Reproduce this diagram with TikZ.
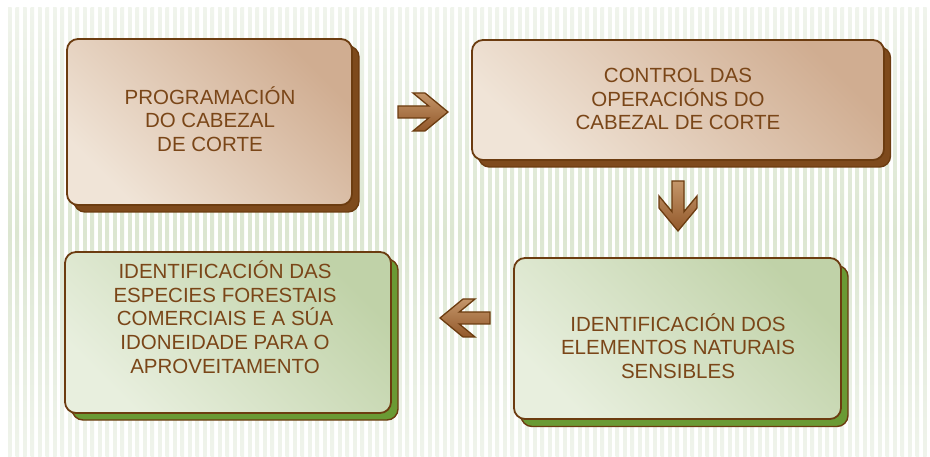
\documentclass[tikz,border=0pt]{standalone}
\usepackage{fontspec}
\setmainfont{Liberation Sans}
\definecolor{bordc}{RGB}{108,60,16}
\definecolor{shadowbrown}{RGB}{126,74,28}
\definecolor{tanlight}{RGB}{240,228,215}
\definecolor{tandark}{RGB}{208,173,145}
\definecolor{greenlight}{RGB}{232,239,222}
\definecolor{greendark}{RGB}{192,210,168}
\definecolor{greenshadow}{RGB}{106,154,52}
\definecolor{textc}{RGB}{122,70,24}
\definecolor{arrowlight}{RGB}{196,150,106}
\definecolor{arrowdark}{RGB}{146,88,42}
\definecolor{stripemid}{RGB}{220,230,209}
\definecolor{stripeend}{RGB}{240,244,236}
\tikzset{
  boxbase/.style={rectangle, rounded corners=11pt, draw=bordc, line width=1.8pt, inner sep=0pt},
  tanbox/.style={boxbase, top color=tanlight, bottom color=tandark, shading angle=135},
  greenbox/.style={boxbase, top color=greenlight, bottom color=greendark, shading angle=135},
  brownshadow/.style={boxbase, fill=shadowbrown, line width=1.4pt},
  greenshadowbox/.style={boxbase, fill=greenshadow, line width=1.4pt},
  txt/.style={align=center, text=textc, font=\fontsize{20.5}{23.7}\selectfont, inner sep=0pt},
  arrowsty/.style={draw=bordc, line width=1.3pt, line join=miter, top color=arrowlight, bottom color=arrowdark},
  stripe/.style={top color=stripeend, bottom color=stripeend, middle color=stripemid}
}
\newcommand{\chevarrow}[2]{% tip coordinate, rotation
  \draw[arrowsty, shift={(#1)}, rotate=#2] (0,0) -- (-23,19) -- (-35,19) -- (-19.3,6) -- (-50,6)
    -- (-50,-6) -- (-19.3,-6) -- (-35,-19) -- (-23,-19) -- cycle;}
\begin{document}
\begin{tikzpicture}[x=1pt,y=-1pt]
\useasboundingbox (0,0) rectangle (930,457);
\fill[white] (0,0) rectangle (930,457);
% striped background
\foreach \i in {0,...,122}{
  \shade[stripe] ({8+7.5*\i},8) rectangle ++(3.6,449);
}
% box 1
\node[brownshadow, minimum width=285pt, minimum height=166pt] (s1) at (216.5,129) {};
\node[tanbox, minimum width=285pt, minimum height=166pt] (b1) at (209.5,122) {};
\node[txt] (t1) at (210,119) {PROGRAMACIÓN\\DO CABEZAL\\DE CORTE};
% box 2
\node[brownshadow, minimum width=412pt, minimum height=120pt] (s2) at (684.5,107) {};
\node[tanbox, minimum width=412pt, minimum height=120pt] (b2) at (678,100) {};
\node[txt] (t2) at (678,99) {CONTROL DAS\\OPERACIÓNS DO\\CABEZAL DE CORTE};
% box 3
\node[greenshadowbox, minimum width=327pt, minimum height=161pt] (s3) at (684.5,346) {};
\node[greenbox, minimum width=327pt, minimum height=161pt] (b3) at (677.5,338.5) {};
\node[txt] (t3) at (678,346) {IDENTIFICACIÓN DOS\\ELEMENTOS NATURAIS\\SENSIBLES};
% box 4
\node[greenshadowbox, minimum width=326pt, minimum height=161pt] (s4) at (235,339.5) {};
\node[greenbox, minimum width=326pt, minimum height=161pt] (b4) at (228,332.5) {};
\node[txt] (t4) at (225,317) {IDENTIFICACIÓN DAS\\ESPECIES FORESTAIS\\COMERCIAIS E A SÚA\\IDONEIDADE PARA O\\APROVEITAMENTO};
% arrows
\coordinate (a1) at (448,112);
\coordinate (a2) at (678,231);
\coordinate (a3) at (440,318);
\chevarrow{a1}{0}
\chevarrow{a2}{-90}
\chevarrow{a3}{180}
\end{tikzpicture}
\end{document}
